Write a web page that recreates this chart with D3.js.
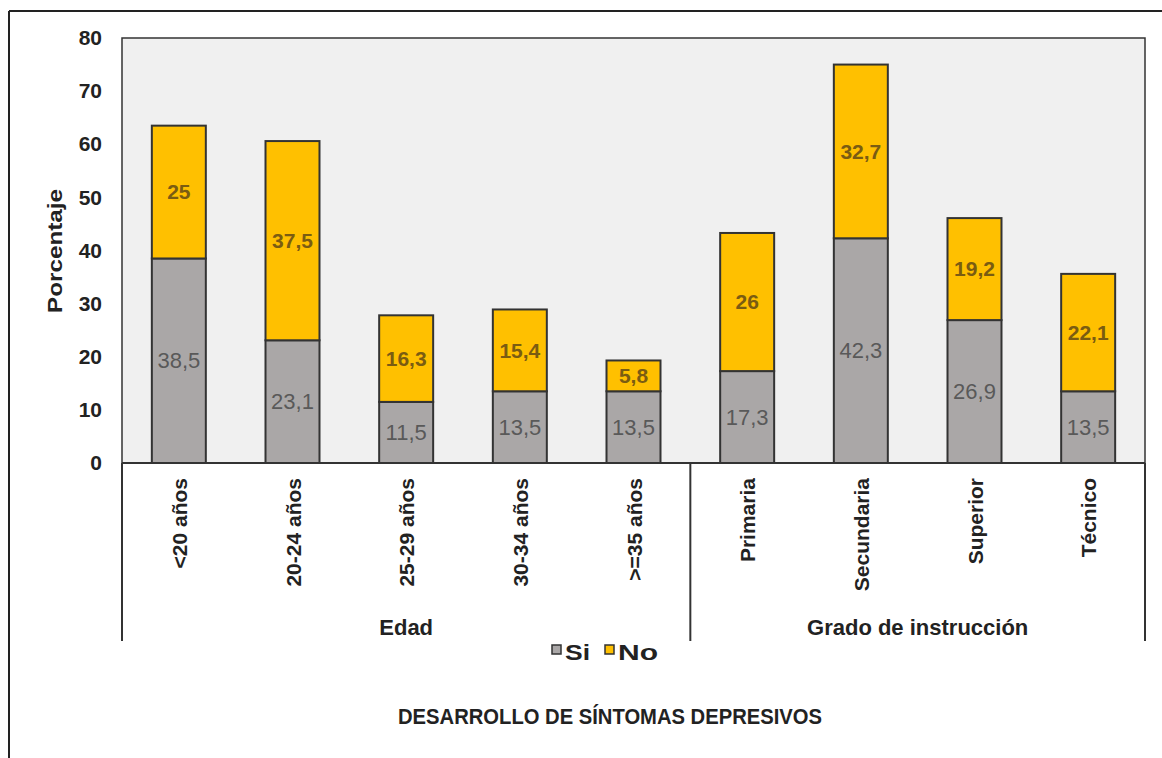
<!DOCTYPE html>
<html>
<head>
<meta charset="utf-8">
<script src="https://cdn.jsdelivr.net/npm/d3@7"></script>
<style>
  body { margin: 0; background: #fff; }
  text { font-family: "Liberation Sans", Arial, sans-serif; }
</style>
</head>
<body>
<script>
var categories = ['<20 años', '20-24 años', '25-29 años', '30-34 años', '>=35 años', 'Primaria', 'Secundaria', 'Superior', 'Técnico'];
var siValues = [38.5, 23.1, 11.5, 13.5, 13.5, 17.3, 42.3, 26.9, 13.5];
var noValues = [25, 37.5, 16.3, 15.4, 5.8, 26, 32.7, 19.2, 22.1];
var groups = [{name: 'Edad', from: 0, to: 5}, {name: 'Grado de instrucción', from: 5, to: 9}];
var yTicks = [0, 10, 20, 30, 40, 50, 60, 70, 80];

var W = 1162, H = 758;
var plotL = 122, plotR = 1145, plotT = 38, plotB = 463;
var FONT = '"Liberation Sans", Arial, sans-serif';

var svg = d3.select('body').append('svg').attr('width', W).attr('height', H);

// outer frame (top + left edges visible)
svg.append('line').attr('x1', 9).attr('x2', W).attr('y1', 11).attr('y2', 11).attr('stroke', '#222').attr('stroke-width', 2);
svg.append('line').attr('x1', 9).attr('x2', 9).attr('y1', 11).attr('y2', H).attr('stroke', '#222').attr('stroke-width', 2);

var x = d3.scaleBand().domain(d3.range(categories.length)).range([plotL, plotR]).paddingInner(0.525).paddingOuter(0.2625);
var y = d3.scaleLinear().domain([0, 80]).range([plotB, plotT]);

// plot area
svg.append('rect').attr('x', plotL).attr('y', plotT).attr('width', plotR - plotL).attr('height', plotB - plotT)
  .attr('fill', '#f0f0f0').attr('stroke', '#333').attr('stroke-width', 1.5);

// y axis labels
var yAxis = d3.axisLeft(y).tickValues(yTicks).tickSize(0).tickPadding(20);
var gy = svg.append('g').attr('transform', 'translate(' + plotL + ',0)').call(yAxis);
gy.select('.domain').remove();
gy.selectAll('text').attr('font-size', 21).attr('font-weight', 'bold').attr('fill', '#222').style('font-family', FONT);

svg.append('text').attr('transform', 'translate(62,' + 251 + ') rotate(-90)')
  .attr('text-anchor', 'middle').attr('font-size', 21).attr('font-weight', 'bold').attr('fill', '#222')
  .attr('textLength', 124).attr('lengthAdjust', 'spacingAndGlyphs').text('Porcentaje');

// bars
var bars = svg.append('g');
bars.selectAll('rect.si').data(siValues).enter().append('rect').attr('class', 'si')
  .attr('x', function (d, i) { return x(i); })
  .attr('y', function (d) { return y(d); })
  .attr('width', x.bandwidth())
  .attr('height', function (d) { return y(0) - y(d); })
  .attr('fill', '#aaa7a7').attr('stroke', '#333').attr('stroke-width', 2);
bars.selectAll('rect.no').data(noValues).enter().append('rect').attr('class', 'no')
  .attr('x', function (d, i) { return x(i); })
  .attr('y', function (d, i) { return y(siValues[i] + d); })
  .attr('width', x.bandwidth())
  .attr('height', function (d, i) { return y(siValues[i]) - y(siValues[i] + d); })
  .attr('fill', '#ffc000').attr('stroke', '#333').attr('stroke-width', 2);

function fmt(v) { return String(v).replace('.', ','); }

bars.selectAll('text.si').data(siValues).enter().append('text')
  .attr('x', function (d, i) { return x(i) + x.bandwidth() / 2; })
  .attr('y', function (d) { return y(d / 2); })
  .attr('dy', '0.35em').attr('text-anchor', 'middle').attr('font-size', 22).attr('fill', '#595959')
  .text(fmt);
bars.selectAll('text.no').data(noValues).enter().append('text')
  .attr('x', function (d, i) { return x(i) + x.bandwidth() / 2; })
  .attr('y', function (d, i) { return y(siValues[i] + d / 2); })
  .attr('dy', '0.35em').attr('text-anchor', 'middle').attr('font-size', 21).attr('font-weight', 'bold').attr('fill', '#7a5c12')
  .text(fmt);

// baseline
svg.append('line').attr('x1', plotL).attr('x2', plotR).attr('y1', plotB).attr('y2', plotB).attr('stroke', '#333').attr('stroke-width', 2);

// category labels
svg.selectAll('text.cat').data(categories).enter().append('text').attr('class', 'cat')
  .attr('transform', function (d, i) { return 'translate(' + (x(i) + x.bandwidth() / 2 + 8) + ',478) rotate(-90)'; })
  .attr('text-anchor', 'end').attr('font-size', 21).attr('font-weight', 'bold').attr('fill', '#222')
  .text(function (d) { return d; });

// group separators and names
var step = x.step();
var seps = [plotL, plotL + step * 5, plotR];
svg.selectAll('line.sep').data(seps).enter().append('line')
  .attr('x1', function (d) { return d; }).attr('x2', function (d) { return d; })
  .attr('y1', plotB).attr('y2', 641).attr('stroke', '#333').attr('stroke-width', 2);
svg.selectAll('text.grp').data(groups).enter().append('text')
  .attr('x', function (d) { return plotL + step * (d.from + d.to) / 2; })
  .attr('y', 635).attr('text-anchor', 'middle').attr('font-size', 22).attr('font-weight', 'bold').attr('fill', '#222')
  .text(function (d) { return d.name; });

// legend
var legend = [{name: 'Si', color: '#aaa7a7'}, {name: 'No', color: '#ffc000'}];
var lg = svg.append('g').attr('transform', 'translate(552,645)');
var lx = [0, 53];
var lw = [25, 40];
legend.forEach(function (l, i) {
  lg.append('rect').attr('x', lx[i]).attr('y', 0).attr('width', 9).attr('height', 9)
    .attr('fill', l.color).attr('stroke', '#333').attr('stroke-width', 1.5);
  lg.append('text').attr('x', lx[i] + 13).attr('y', 15).attr('font-size', 22).attr('font-weight', 'bold')
    .attr('textLength', lw[i]).attr('lengthAdjust', 'spacingAndGlyphs').attr('fill', '#222').text(l.name);
});

// title
svg.append('text').attr('x', 610).attr('y', 724).attr('text-anchor', 'middle').attr('font-size', 22).attr('font-weight', 'bold').attr('fill', '#222')
  .attr('textLength', 424).attr('lengthAdjust', 'spacingAndGlyphs')
  .text('DESARROLLO DE SÍNTOMAS DEPRESIVOS');
</script>
</body>
</html>
